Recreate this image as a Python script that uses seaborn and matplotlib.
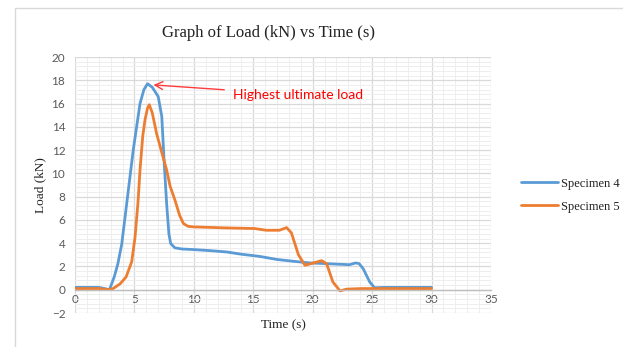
import matplotlib
matplotlib.use("Agg")
import matplotlib.pyplot as plt
from matplotlib.patches import Rectangle
from matplotlib.ticker import MultipleLocator
import seaborn as sns
import pandas as pd

# ---- data ----
spec4_time = [0, 1, 2, 2.5, 2.9, 3.3, 3.6, 3.93, 4.35, 4.9, 5.47, 5.8, 6.1, 6.5, 7.0, 7.3, 7.5,
              7.71, 7.9, 8.05, 8.4, 9.0, 10.0, 11.5, 12.8, 14.0, 15.5, 17.0, 18.4, 19.8, 21.2,
              23.1, 23.6, 23.9, 24.25, 24.8, 25.2, 26, 30]
spec4_load = [0.2, 0.2, 0.2, 0.1, 0.0, 1.1, 2.2, 3.9, 7.4, 12.0, 16.0, 17.2, 17.7, 17.4, 16.6, 14.9, 11.0,
              7.4, 4.8, 3.97, 3.6, 3.5, 3.45, 3.35, 3.24, 3.05, 2.87, 2.6, 2.44, 2.3, 2.24,
              2.15, 2.3, 2.25, 1.8, 0.66, 0.17, 0.2, 0.2]
spec5_time = [0, 2.0, 2.5, 2.8, 3.2, 3.79, 4.3, 4.77, 5.05, 5.3, 5.47, 5.7, 5.89, 6.1, 6.25, 6.5,
              6.87, 7.3, 7.71, 8.0, 8.41, 8.8, 9.11, 9.5, 10, 12.8, 15.1, 16.1, 17.2, 17.8, 18.2,
              18.8, 19.35, 20.05, 20.75, 21.17, 21.7, 22.3, 22.85, 24, 30]
spec5_load = [0.1, 0.1, 0.05, 0.0, 0.1, 0.5, 1.1, 2.4, 4.5, 7.5, 10.3, 13.2, 14.6, 15.6, 15.9, 15.2,
              13.4, 11.8, 10.3, 8.9, 7.7, 6.4, 5.7, 5.45, 5.4, 5.31, 5.26, 5.11, 5.11, 5.34, 4.9,
              3.0, 2.1, 2.3, 2.5, 2.24, 0.66, -0.1, 0.05, 0.1, 0.1]
series_names = ["Specimen 4", "Specimen 5"]
title_text = "Graph of Load (kN) vs Time (s)"
x_label = "Time (s)"
y_label = "Load (kN)"
annotation_text = "Highest ultimate load"
annotation_tip = (6.6, 17.6)
annotation_pos = (13.3, 16.75)

df = pd.concat([
    pd.DataFrame({"Time": spec4_time, "Load": spec4_load, "Series": series_names[0]}),
    pd.DataFrame({"Time": spec5_time, "Load": spec5_load, "Series": series_names[1]}),
], ignore_index=True)

sns.set_theme(style="white")
fig = plt.figure(figsize=(6.23, 3.47), dpi=100)
ax = fig.add_axes([75/623, 1-313/347, (491-75)/623, (313-57)/347])

palette = {series_names[0]: "#5B9BD5", series_names[1]: "#ED7D31"}
sns.lineplot(data=df, x="Time", y="Load", hue="Series", palette=palette, estimator=None,
             sort=False, linewidth=2.0, ax=ax, legend=True)

ax.set_xlim(0, 35)
ax.set_ylim(-2, 20)
ax.xaxis.set_major_locator(MultipleLocator(5))
ax.xaxis.set_minor_locator(MultipleLocator(1))
ax.yaxis.set_major_locator(MultipleLocator(2))
ax.yaxis.set_minor_locator(MultipleLocator(0.4))
ax.grid(which="major", color="#d9d9d9", linewidth=0.9)
ax.grid(which="minor", color="#eeeeee", linewidth=0.7)
ax.set_axisbelow(True)

for s in ["top", "right", "left"]:
    ax.spines[s].set_visible(False)
ax.spines["bottom"].set_position(("data", 0))
ax.spines["bottom"].set_color("#bfbfbf")
ax.spines["bottom"].set_linewidth(1.0)
ax.tick_params(which="both", length=0)
ax.tick_params(axis="x", pad=3)
ax.tick_params(axis="y", pad=7)
for lab in ax.get_xticklabels() + ax.get_yticklabels():
    lab.set_fontfamily("Lato")
    lab.set_fontsize(8.5)
    lab.set_color("#595959")

ax.set_xlabel("")
ax.set_ylabel("")
fig.text(283/623, 1-325/347, x_label, ha="center", va="center",
         family="Liberation Serif", fontsize=9.5, color="#222222")
fig.text(40/623, 1-185/347, y_label, ha="center", va="center", rotation=90,
         family="Liberation Serif", fontsize=9.5, color="#222222")
fig.text(268/623, 1-33/347, title_text, ha="center", va="center",
         family="Liberation Serif", fontsize=12, color="#222222")

ax.annotate(annotation_text, xy=annotation_tip, xytext=annotation_pos,
            ha="left", va="center", color="#FF0000", family="Lato", fontsize=10,
            arrowprops=dict(arrowstyle="->", color="#FF3B3B", lw=1.0,
                            shrinkA=4, shrinkB=0, mutation_scale=14))

leg = ax.legend(loc="center left", bbox_to_anchor=(515/623, 1-195/347),
                bbox_transform=fig.transFigure, frameon=False, handlelength=2.4,
                handletextpad=0.2, labelspacing=0.6, borderaxespad=0)
for t in leg.get_texts():
    t.set_fontfamily("Liberation Serif")
    t.set_fontsize(9)
    t.set_color("#222222")

fig.patches.append(Rectangle((15/623, -0.2), 1.2, 1.2 - 8/347, transform=fig.transFigure,
                             fill=False, edgecolor="#d9d9d9", linewidth=1.0, zorder=-1))

fig.savefig("out.png", dpi=100)
